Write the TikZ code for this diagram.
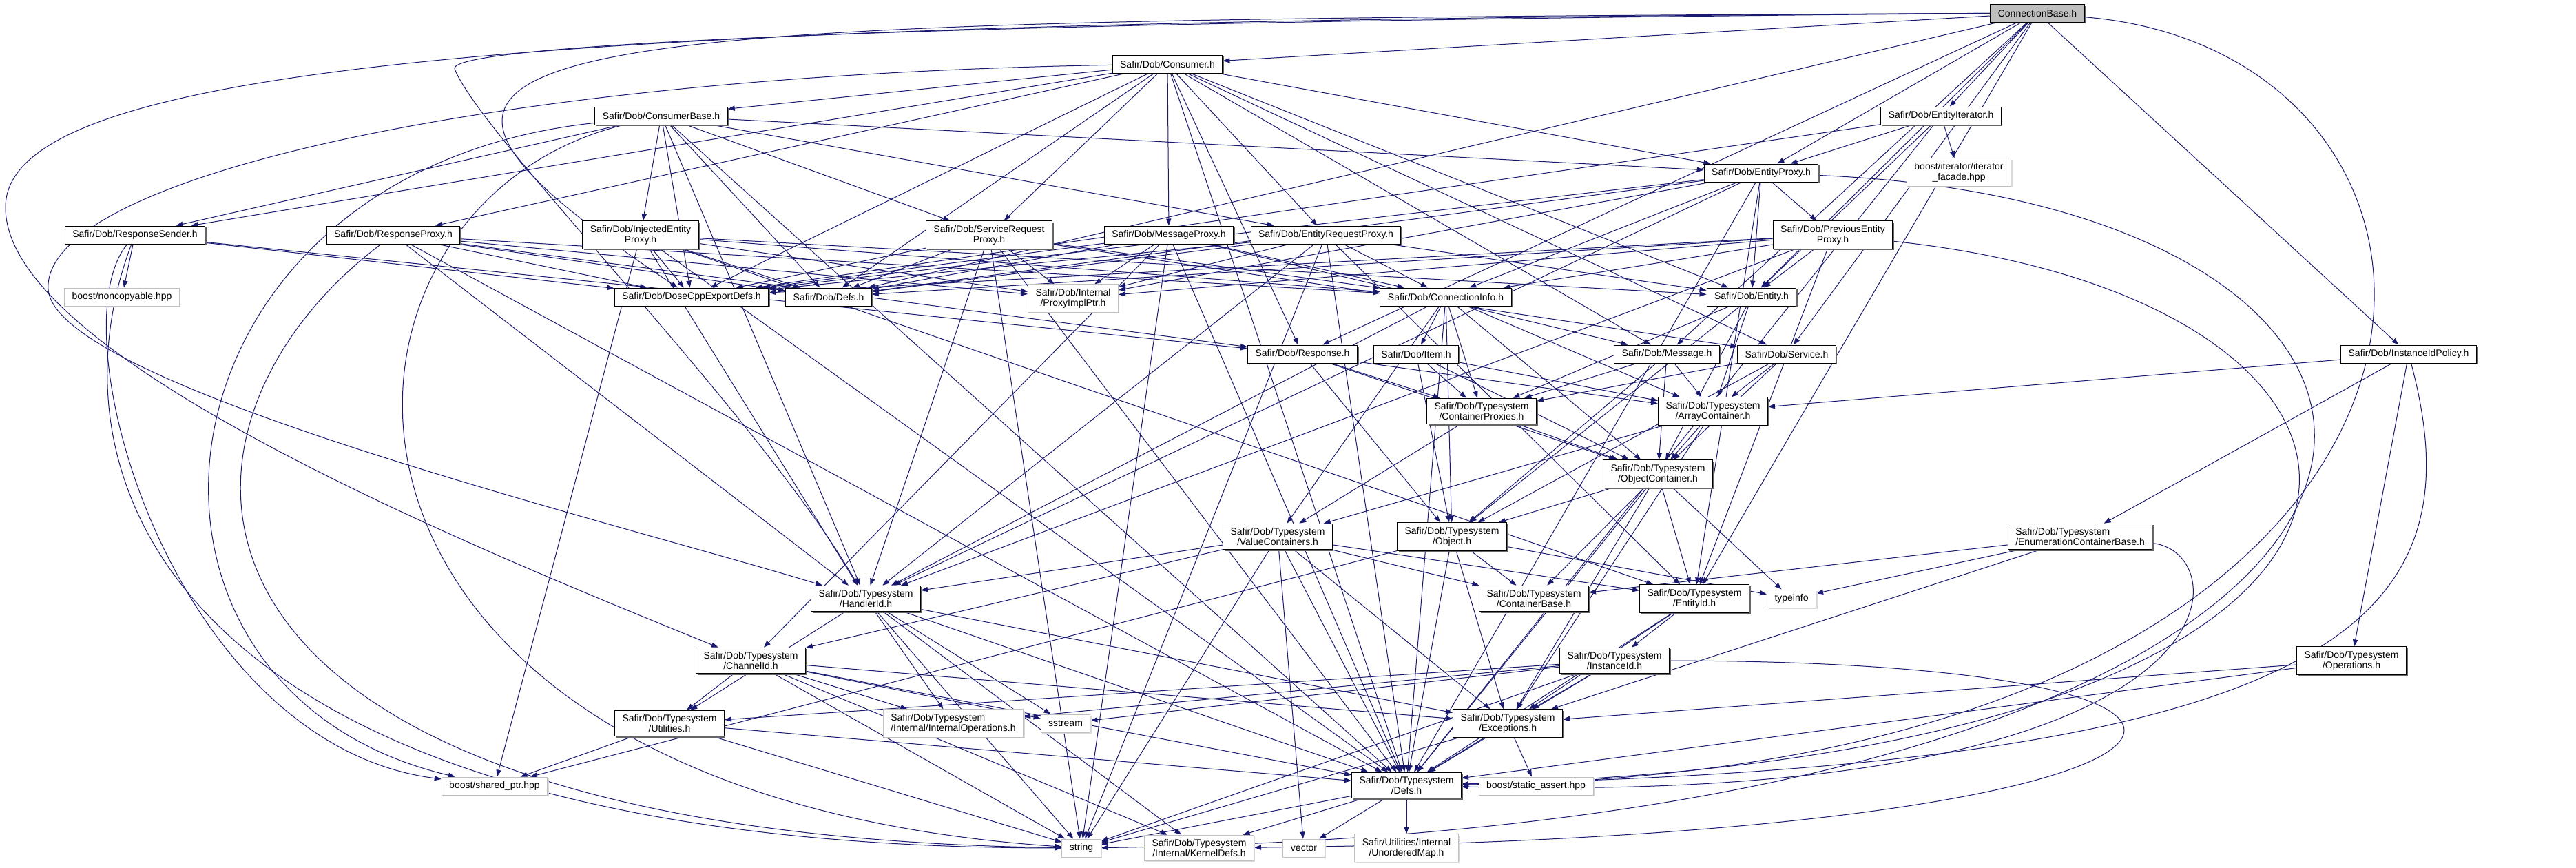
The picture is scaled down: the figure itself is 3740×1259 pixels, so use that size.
\documentclass[tikz,border=0pt]{standalone}
\usepackage{fontspec}
\setmainfont{Liberation Sans}
\usepackage{xcolor}
\usepackage{tikz}
\usetikzlibrary{arrows.meta,shadows,backgrounds}
\definecolor{edgeblue}{HTML}{191970}
\definecolor{boxgray}{HTML}{BFBFBF}

\begin{document}
\begin{tikzpicture}[
        x=0.5pt, y=-0.5pt,
        hdr/.style={rectangle, draw=black, fill=white, line width=0.5pt, inner xsep=5.5pt, inner ysep=3pt, minimum height=13pt, align=center, font=\fontsize{7}{7.6}\selectfont, drop shadow={shadow xshift=1pt, shadow yshift=-1pt, fill=black!60, opacity=1}},
        syshdr/.style={rectangle, draw=boxgray, fill=white, line width=0.5pt, inner xsep=5.5pt, inner ysep=3pt, minimum height=13pt, align=center, font=\fontsize{7}{7.6}\selectfont, drop shadow={shadow xshift=1pt, shadow yshift=-1pt, fill=black!15, opacity=1}},
        rootfile/.style={hdr, fill=boxgray},
        arrow/.style={->, >={Triangle[length=5pt, width=3.6pt]}, draw=edgeblue, line width=0.5pt},
    ]
    \useasboundingbox (0,0) rectangle (3740,1259);

    % Root header
    \node[rootfile] (cb) at (2958,19) {ConnectionBase.h};

    % Dob headers, top part
    \node[hdr] (consumer) at (1695,93) {Safir/Dob/Consumer.h};
    \node[hdr] (consumerbase) at (960,168) {Safir/Dob/ConsumerBase.h};
    \node[hdr] (entityiter) at (2818,168) {Safir/Dob/EntityIterator.h};
    \node[syshdr] (iterfacade) at (2844,250) {boost/iterator/iterator\\\_facade.hpp};
    \node[hdr] (entityproxy) at (2557,251) {Safir/Dob/EntityProxy.h};
    \node[hdr] (respsender) at (196,341) {Safir/Dob/ResponseSender.h};
    \node[hdr] (respproxy) at (571,341) {Safir/Dob/ResponseProxy.h};
    \node[hdr] (injproxy) at (930,341) {Safir/Dob/InjectedEntity\\Proxy.h};
    \node[hdr] (srvreqproxy) at (1436,341) {Safir/Dob/ServiceRequest\\Proxy.h};
    \node[hdr] (msgproxy) at (1697,341) {Safir/Dob/MessageProxy.h};
    \node[hdr] (entreqproxy) at (1925,341) {Safir/Dob/EntityRequestProxy.h};
    \node[hdr] (prevproxy) at (2661,341) {Safir/Dob/PreviousEntity\\Proxy.h};
    \node[syshdr] (noncopy) at (177,431) {boost/noncopyable.hpp};
    \node[hdr] (exportdefs) at (1004,431) {Safir/Dob/DoseCppExportDefs.h};
    \node[hdr] (dobdefs) at (1203,431) {Safir/Dob/Defs.h};
    \node[syshdr] (proxyimpl) at (1558,433) {Safir/Dob/Internal\\/ProxyImplPtr.h};
    \node[hdr] (conninfo) at (2099,431) {Safir/Dob/ConnectionInfo.h};
    \node[hdr] (entity) at (2543,431) {Safir/Dob/Entity.h};
    \node[hdr] (response) at (1891,514) {Safir/Dob/Response.h};
    \node[hdr] (item) at (2056,514) {Safir/Dob/Item.h};
    \node[hdr] (message) at (2420,514) {Safir/Dob/Message.h};
    \node[hdr] (service) at (2594,514) {Safir/Dob/Service.h};
    \node[hdr] (instpolicy) at (3497,514) {Safir/Dob/InstanceIdPolicy.h};

    % Typesystem headers
    \node[hdr] (contproxies) at (2151,597) {Safir/Dob/Typesystem\\/ContainerProxies.h};
    \node[hdr] (arraycont) at (2487,597) {Safir/Dob/Typesystem\\/ArrayContainer.h};
    \node[hdr] (objcont) at (2407,688) {Safir/Dob/Typesystem\\/ObjectContainer.h};
    \node[hdr] (valuecont) at (1855,779) {Safir/Dob/Typesystem\\/ValueContainers.h};
    \node[hdr] (object) at (2108,779) {Safir/Dob/Typesystem\\/Object.h};
    \node[hdr, align=left] (enumbase) at (3020,779) {Safir/Dob/Typesystem\\/EnumerationContainerBase.h};
    \node[hdr] (handlerid) at (1257,869) {Safir/Dob/Typesystem\\/HandlerId.h};
    \node[hdr] (contbase) at (2227,869) {Safir/Dob/Typesystem\\/ContainerBase.h};
    \node[hdr] (entityid) at (2460,869) {Safir/Dob/Typesystem\\/EntityId.h};
    \node[syshdr] (typeinfo) at (2601,869) {typeinfo};
    \node[hdr] (channelid) at (1090,959) {Safir/Dob/Typesystem\\/ChannelId.h};
    \node[hdr] (instanceid) at (2344,959) {Safir/Dob/Typesystem\\/InstanceId.h};
    \node[hdr] (operations) at (3414,959) {Safir/Dob/Typesystem\\/Operations.h};
    \node[hdr] (utilities) at (972,1050) {Safir/Dob/Typesystem\\/Utilities.h};
    \node[syshdr, align=left] (internalops) at (1384,1050) {Safir/Dob/Typesystem\\/Internal/InternalOperations.h};
    \node[syshdr] (sstream) at (1547,1050) {sstream};
    \node[hdr] (exceptions) at (2189,1050) {Safir/Dob/Typesystem\\/Exceptions.h};
    \node[syshdr] (sharedptr) at (718,1141) {boost/shared\_ptr.hpp};
    \node[hdr] (tsdefs) at (2042,1140) {Safir/Dob/Typesystem\\/Defs.h};
    \node[syshdr] (staticassert) at (2230,1141) {boost/static\_assert.hpp};
    \node[syshdr] (string) at (1570,1231) {string};
    \node[syshdr] (kerneldefs) at (1741,1231) {Safir/Dob/Typesystem\\/Internal/KernelDefs.h};
    \node[syshdr] (vector) at (1893,1231) {vector};
    \node[syshdr] (unorderedmap) at (2042,1231) {Safir/Utilities/Internal\\/UnorderedMap.h};

    \begin{scope}[on background layer]
    % Includes of the root header
    \foreach \dst in {consumer,entityiter,entityproxy,instpolicy,dobdefs,entity,message,service,response,entityid}
        \draw[arrow] (cb) -- (\dst);
    \draw[arrow] (cb) .. controls (700,30) and (420,40) .. (exportdefs);
    \draw[arrow] (cb) .. controls (900,30) and (10,80) .. (8,300) .. controls (5,520) and (700,800) .. (channelid);
    \draw[arrow] (cb) .. controls (1500,30) and (650,60) .. (660,100) .. controls (700,200) and (1100,600) .. (handlerid);
    \draw[arrow] (cb) .. controls (3690,80) and (3690,1120) .. (tsdefs);

    % Consumer side
    \foreach \dst in {consumerbase,respsender,respproxy,srvreqproxy,msgproxy,entreqproxy,entityproxy,exportdefs,dobdefs,entity,message,service,response,tsdefs}
        \draw[arrow] (consumer) -- (\dst);
    \draw[arrow] (consumer) .. controls (700,110) and (60,260) .. (70,420) .. controls (80,560) and (900,760) .. (handlerid);
    \foreach \dst in {respsender,srvreqproxy,entreqproxy,entityproxy,injproxy,exportdefs,dobdefs,handlerid,tsdefs}
        \draw[arrow] (consumerbase) -- (\dst);
    \draw[arrow] (consumerbase) .. controls (200,250) and (120,1000) .. (sharedptr);
    \draw[arrow] (consumerbase) .. controls (420,300) and (380,1150) .. (string);
    \foreach \dst in {entityproxy,iterfacade,exportdefs,entity,tsdefs}
        \draw[arrow] (entityiter) -- (\dst);

    % Proxies
    \foreach \dst in {prevproxy,exportdefs,dobdefs,proxyimpl,conninfo,entity,entityid,handlerid,tsdefs}
        \draw[arrow] (entityproxy) -- (\dst);
    \draw[arrow] (entityproxy) .. controls (3730,300) and (3730,1200) .. (string);
    \foreach \dst in {exportdefs,dobdefs,proxyimpl,conninfo,entity,entityid,handlerid}
        \draw[arrow] (prevproxy) -- (\dst);
    \draw[arrow] (prevproxy) .. controls (3600,440) and (3640,1100) .. (tsdefs);
    \foreach \dst in {noncopy,response,exportdefs}
        \draw[arrow] (respsender) -- (\dst);
    \draw[arrow] (respsender) .. controls (80,480) and (250,1080) .. (sharedptr);
    \draw[arrow] (respsender) .. controls (60,700) and (250,1230) .. (string);
    \foreach \dst in {exportdefs,dobdefs,proxyimpl,conninfo,response,handlerid,tsdefs}
        \draw[arrow] (respproxy) -- (\dst);
    \draw[arrow] (respproxy) .. controls (200,620) and (180,1210) .. (string);
    \foreach \dst in {exportdefs,dobdefs,proxyimpl,conninfo,entity,entityid,handlerid,tsdefs,sharedptr}
        \draw[arrow] (injproxy) -- (\dst);
    \foreach \dst in {exportdefs,dobdefs,proxyimpl,conninfo,service,handlerid,tsdefs,string}
        \draw[arrow] (srvreqproxy) -- (\dst);
    \foreach \dst in {exportdefs,dobdefs,proxyimpl,conninfo,message,channelid,tsdefs,string}
        \draw[arrow] (msgproxy) -- (\dst);
    \foreach \dst in {exportdefs,dobdefs,proxyimpl,conninfo,entity,entityid,handlerid,tsdefs,string}
        \draw[arrow] (entreqproxy) -- (\dst);

    % Object model
    \foreach \dst in {item,contproxies,arraycont,objcont,valuecont,object,handlerid,tsdefs}
        \draw[arrow] (conninfo) -- (\dst);
    \foreach \src in {response,item,message,service,entity}
        \foreach \dst in {contproxies,arraycont,objcont,object}
            \draw[arrow] (\src) -- (\dst);
    \foreach \dst in {arraycont,enumbase,operations}
        \draw[arrow] (instpolicy) -- (\dst);
    \draw[arrow] (instpolicy) .. controls (3600,900) and (3400,1110) .. (tsdefs);
    \foreach \dst in {valuecont,objcont}
        \draw[arrow] (contproxies) -- (\dst);
    \foreach \dst in {valuecont,objcont,exceptions}
        \draw[arrow] (arraycont) -- (\dst);
    \foreach \dst in {object,contbase,typeinfo,exceptions,tsdefs,entityid}
        \draw[arrow] (objcont) -- (\dst);
    \foreach \dst in {handlerid,channelid,contbase,entityid,exceptions,tsdefs,vector,string}
        \draw[arrow] (valuecont) -- (\dst);
    \foreach \dst in {contbase,exceptions,tsdefs,sharedptr,typeinfo}
        \draw[arrow] (object) -- (\dst);
    \foreach \dst in {contbase,typeinfo,exceptions}
        \draw[arrow] (enumbase) -- (\dst);
    \draw[arrow] (enumbase) .. controls (3250,800) and (3280,1170) .. (tsdefs);

    % Typesystem basics
    \foreach \src in {handlerid,channelid}
        \foreach \dst in {utilities,internalops,sstream,exceptions,tsdefs,kerneldefs,string}
            \draw[arrow] (\src) -- (\dst);
    \foreach \dst in {instanceid,exceptions,tsdefs}
        \draw[arrow] (entityid) -- (\dst);
    \foreach \dst in {utilities,internalops,sstream,exceptions,tsdefs,string}
        \draw[arrow] (instanceid) -- (\dst);
    \draw[arrow] (instanceid) .. controls (3450,960) and (3300,1215) .. (kerneldefs);
    \foreach \dst in {exceptions,tsdefs}
        \draw[arrow] (operations) -- (\dst);
    \foreach \dst in {sharedptr,tsdefs,string}
        \draw[arrow] (utilities) -- (\dst);
    \foreach \dst in {tsdefs,staticassert,string}
        \draw[arrow] (exceptions) -- (\dst);
    \foreach \dst in {string,kerneldefs,vector,unorderedmap}
        \draw[arrow] (tsdefs) -- (\dst);
    \end{scope}

\end{tikzpicture}
\end{document}
